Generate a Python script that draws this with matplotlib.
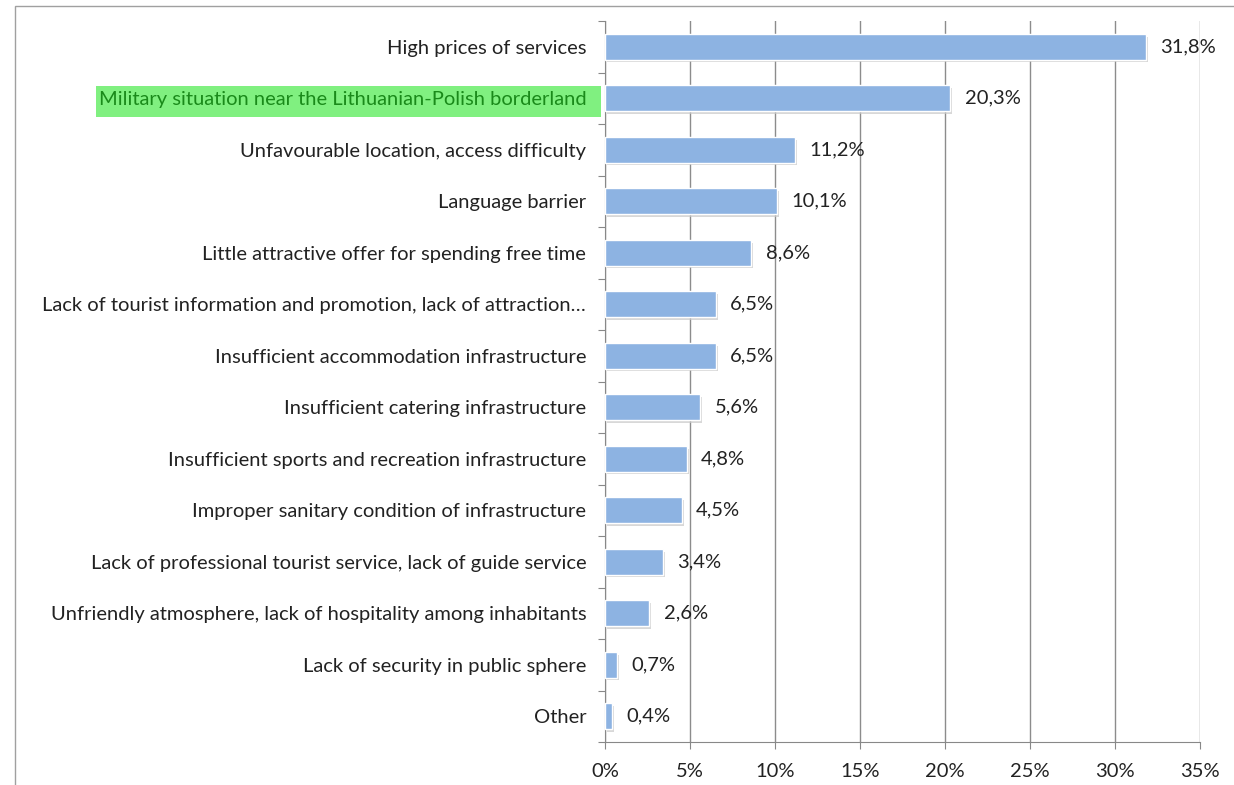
import matplotlib.pyplot as plt
import matplotlib.patheffects as pe
from matplotlib.patches import Rectangle

categories = [
    "High prices of services",
    "Military situation near the Lithuanian-Polish borderland",
    "Unfavourable location, access difficulty",
    "Language barrier",
    "Little attractive offer for spending free time",
    "Lack of tourist information and promotion, lack of attraction…",
    "Insufficient accommodation infrastructure",
    "Insufficient catering infrastructure",
    "Insufficient sports and recreation infrastructure",
    "Improper sanitary condition of infrastructure",
    "Lack of professional tourist service, lack of guide service",
    "Unfriendly atmosphere, lack of hospitality among inhabitants",
    "Lack of security in public sphere",
    "Other",
]
values = [31.8, 20.3, 11.2, 10.1, 8.6, 6.5, 6.5, 5.6, 4.8, 4.5, 3.4, 2.6, 0.7, 0.4]
labels = ["31,8%", "20,3%", "11,2%", "10,1%", "8,6%", "6,5%", "6,5%", "5,6%",
          "4,8%", "4,5%", "3,4%", "2,6%", "0,7%", "0,4%"]
xticks = [0, 5, 10, 15, 20, 25, 30, 35]
highlight = "Military situation near the Lithuanian-Polish borderland"

plt.rcParams['font.family'] = ['Lato', 'DejaVu Sans']
fs = 14.5

fig = plt.figure(figsize=(12.34, 7.85), dpi=100)
ax = fig.add_axes([605/1234, 1 - 742/785, 595/1234, 721/785])
ax.set_zorder(1)
ax.patch.set_visible(False)

# outer chart frame
fig.patches.append(Rectangle((15/1234, -0.01), 1.1, 1 - 6/785 + 0.01,
                             transform=fig.transFigure, fill=False,
                             edgecolor='#a0a0a0', linewidth=1.0))

y = list(range(len(categories)))
bars = ax.barh(y, values, height=0.5, color='#8DB3E2', edgecolor='white',
               linewidth=1.0, zorder=3)
for b in bars:
    b.set_path_effects([pe.SimplePatchShadow(offset=(1.5, -2), shadow_rgbFace='#c8c8c8', alpha=0.7),
                        pe.Normal()])

for v, lab, yi in zip(values, labels, y):
    ax.text(v + 0.85, yi, lab, va='center', ha='left', fontsize=fs, color='#222222')

ax.set_xlim(0, 35)
ax.set_ylim(len(categories) - 0.5, -0.5)
ax.set_xticks(xticks)
ax.set_xticklabels([f"{t}%" for t in xticks], fontsize=fs, color='#222222')
ax.set_yticks([i - 0.5 for i in range(len(categories) + 1)], minor=False)
ax.set_yticklabels([])
ax.set_yticks(y, minor=True)
ax.set_yticklabels(categories, minor=True, fontsize=fs, color='#222222')
ax.tick_params(axis='y', which='minor', length=0, pad=13.5)
ax.tick_params(axis='y', which='major', length=5, color='#888888', direction='out')
ax.tick_params(axis='x', length=5, color='#888888', direction='out', pad=10)

ax.grid(axis='x', color='#8c8c8c', linewidth=1.0, zorder=0)
ax.set_axisbelow(True)
for s in ['top', 'right']:
    ax.spines[s].set_visible(False)
ax.spines['left'].set_color('#888888')
ax.spines['bottom'].set_color('#888888')

# green highlight box behind one label, reaching almost to the axis
fig.canvas.draw()
renderer = fig.canvas.get_renderer()
for t in ax.get_yticklabels(minor=True):
    if t.get_text() == highlight:
        t.set_color('#1a8a1a')
        bb = t.get_window_extent(renderer)
        x0 = bb.x0 - 3
        x1 = ax.get_window_extent(renderer).x0 - 4
        cy = (bb.y0 + bb.y1) / 2 - 2
        fig.patches.append(Rectangle((x0 / 1234, (cy - 15.5) / 785), (x1 - x0) / 1234, 31 / 785,
                                     transform=fig.transFigure, facecolor='#80F080',
                                     edgecolor='none', zorder=0))

fig.savefig('out.png', dpi=100)
